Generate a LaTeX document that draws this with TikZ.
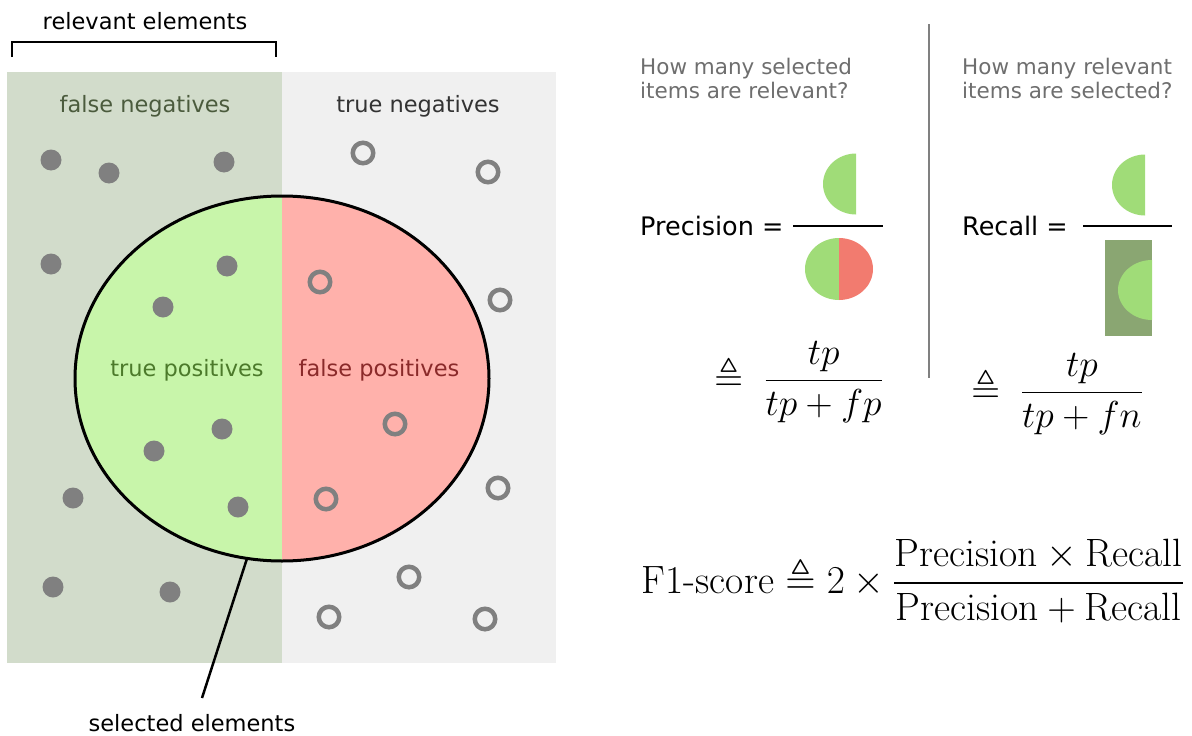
\documentclass[tikz,border=0pt]{standalone}
\usepackage{fix-cm}
\usepackage{amsmath,amssymb}
\usepackage[no-math]{fontspec}
\newfontfamily\dejavu{DejaVu Sans}
\usetikzlibrary{shapes.geometric}
\definecolor{bgL}{HTML}{D2DCCB}
\definecolor{bgR}{HTML}{F0F0F0}
\definecolor{selG}{HTML}{C8F5AA}
\definecolor{selR}{HTML}{FFB1AB}
\definecolor{dotgray}{HTML}{808080}
\definecolor{fnT}{HTML}{4B5B3D}
\definecolor{tnT}{HTML}{333333}
\definecolor{tpT}{HTML}{4C7A2B}
\definecolor{fpT}{HTML}{8A2A2A}
\definecolor{qgray}{HTML}{6E6E6E}
\definecolor{icG}{HTML}{A0DC78}
\definecolor{icR}{HTML}{F27B6F}
\definecolor{icD}{HTML}{8AA672}
\begin{document}
\begin{tikzpicture}[x=1pt,y=-1pt,
  lbl/.style={font=\dejavu\fontsize{22.5}{27}\selectfont, inner sep=0, anchor=base},
  ques/.style={font=\dejavu\fontsize{21.5}{23.5}\selectfont, text=qgray, inner sep=0, anchor=north west, align=left},
  eqlbl/.style={font=\dejavu\fontsize{25.5}{30}\selectfont, inner sep=0, anchor=base west},
  mth/.style={font=\fontsize{37.5}{45}\selectfont, inner sep=0, anchor=base east},
  mthbig/.style={font=\fontsize{39.5}{47}\selectfont, inner sep=0, anchor=base east},
  dot/.style={circle, fill=dotgray, minimum size=21, inner sep=0, outer sep=0},
  ring/.style={circle, draw=dotgray, line width=4.5, minimum size=20.5, inner sep=0, outer sep=0},
  fracline/.style={line width=2},
]
\useasboundingbox (0,0) rectangle (1192,736);
% backgrounds
\fill[bgL] (7,72) rectangle (282,663);
\fill[bgR] (282,72) rectangle (556,663);
% bracket
\draw[line width=2.5] (12,57) -- (12,42) -- (276,42) -- (276,57);
% selected ellipse
\node[ellipse, line width=3, minimum width=414, minimum height=365, inner sep=0, outer sep=0,
  path picture={
    \fill[selG] (path picture bounding box.south west) rectangle (path picture bounding box.north);
    \fill[selR] (path picture bounding box.north) rectangle (path picture bounding box.south east);
  }] (sel) at (282,378.5) {};
\draw[line width=3] (sel.center) ellipse [x radius=207, y radius=182.5];
\coordinate (selend) at (202,698);
\draw[line width=2.5] (sel.259) -- (selend);
% filled dots
\node[dot] (d1) at (51,160) {};
\node[dot] (d2) at (109,173) {};
\node[dot] (d3) at (224,162) {};
\node[dot] (d4) at (51,264) {};
\node[dot] (d5) at (227,266) {};
\node[dot] (d6) at (163,307) {};
\node[dot] (d7) at (222,429) {};
\node[dot] (d8) at (154,451) {};
\node[dot] (d9) at (73,498) {};
\node[dot] (d10) at (238,507) {};
\node[dot] (d11) at (53,587) {};
\node[dot] (d12) at (170,592) {};
% rings
\node[ring] (r1) at (363,153) {};
\node[ring] (r2) at (488,172) {};
\node[ring] (r3) at (320,282) {};
\node[ring] (r4) at (500,300) {};
\node[ring] (r5) at (395,424) {};
\node[ring] (r6) at (326,499) {};
\node[ring] (r7) at (498,488) {};
\node[ring] (r8) at (409,577) {};
\node[ring] (r9) at (329,617) {};
\node[ring] (r10) at (485,619) {};
% labels
\node[lbl] (relT) at (145,29) {relevant elements};
\node[lbl, text=fnT] (fnL) at (145,112) {false negatives};
\node[lbl, text=tnT] (tnL) at (418,112) {true negatives};
\node[lbl, text=tpT] (tpL) at (187,376) {true positives};
\node[lbl, text=fpT] (fpL) at (379,376) {false positives};
\node[lbl] (selT) at (192,731) {selected elements};
% right side
\draw[dotgray, line width=2] (929,24) -- (929,378);
\node[ques] (q1) at (640,58) {How many selected\\items are relevant?};
\node[ques] (q2) at (962,58) {How many relevant\\items are selected?};
\node[eqlbl] (precL) at (640,235) {Precision =};
\node[eqlbl] (recL) at (962,235) {Recall =};
% precision icons
\begin{scope}
  \clip (800,140) rectangle (856,230);
  \fill[icG] (856,184) ellipse [x radius=33, y radius=30.5];
\end{scope}
\draw[fracline] (793,226) -- (883,226);
\begin{scope}
  \clip (800,230) rectangle (839,310);
  \fill[icG] (839,269) ellipse [x radius=34, y radius=31];
\end{scope}
\begin{scope}
  \clip (839,230) rectangle (880,310);
  \fill[icR] (839,269) ellipse [x radius=34, y radius=31];
\end{scope}
% recall icons
\begin{scope}
  \clip (1100,140) rectangle (1145,230);
  \fill[icG] (1145,185) ellipse [x radius=33, y radius=30.5];
\end{scope}
\draw[fracline] (1083,226) -- (1172,226);
\fill[icD] (1105,240) rectangle (1152,336);
\begin{scope}
  \clip (1105,240) rectangle (1152,336);
  \fill[icG] (1152,290) ellipse [x radius=34, y radius=30];
\end{scope}
% formulas
\node[mth] (precF) at (883,390) {$\displaystyle\triangleq\;\frac{tp}{tp+fp}$};
\node[mth] (recF) at (1143,402) {$\displaystyle\triangleq\;\frac{tp}{tp+fn}$};
\node[mthbig] (f1F) at (1184,593) {$\displaystyle\text{F1-score}\triangleq 2\times\frac{\text{Precision}\times\text{Recall}}{\text{Precision}+\text{Recall}}$};
\end{tikzpicture}
\end{document}
